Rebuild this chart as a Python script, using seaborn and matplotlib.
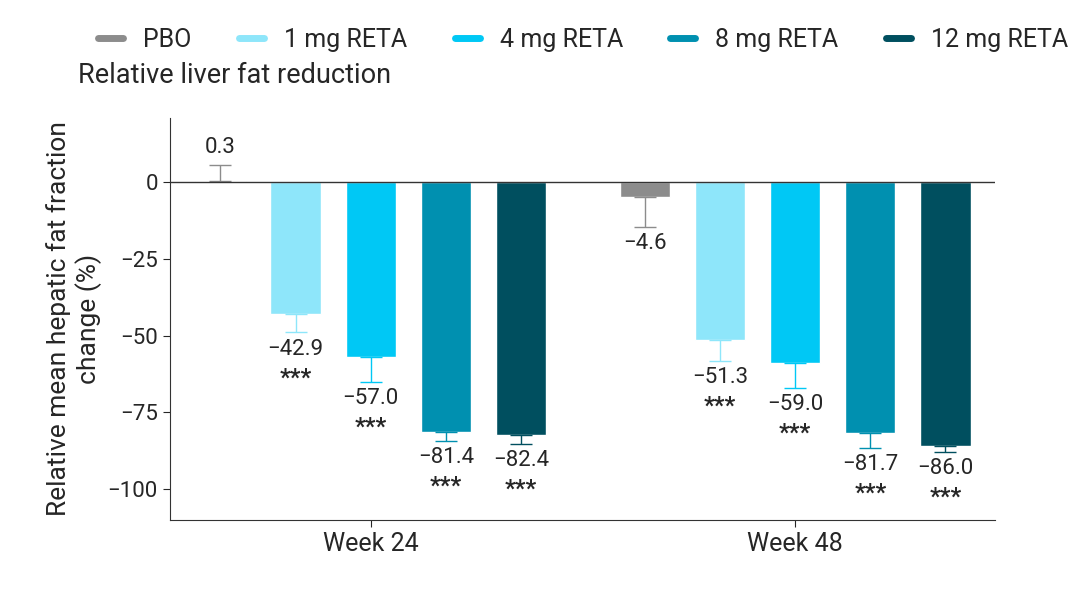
import pandas as pd
import numpy as np
import matplotlib
matplotlib.use('Agg')
import matplotlib.pyplot as plt
import seaborn as sns
from matplotlib.lines import Line2D

weeks = ['Week 24', 'Week 48']
doses = ['PBO', '1 mg RETA', '4 mg RETA', '8 mg RETA', '12 mg RETA']
colors = ['#8c8c8c', '#8ee6fa', '#00c8f5', '#0090b0', '#004f5f']
wk24 = [0.3, -42.9, -57.0, -81.4, -82.4]
wk48 = [-4.6, -51.3, -59.0, -81.7, -86.0]
err24 = [5.5, 6.0, 8.0, 3.0, 3.0]
err48 = [10.0, 7.0, 8.0, 5.0, 2.0]
stars24 = ['', '***', '***', '***', '***']
stars48 = ['', '***', '***', '***', '***']

sns.set_style('white')
plt.rcParams['font.family'] = ['Roboto', 'DejaVu Sans']

df = pd.DataFrame({'week': np.repeat(weeks, len(doses)),
                   'dose': doses * 2,
                   'val': wk24 + wk48})

fig = plt.figure(figsize=(10.8, 5.9), dpi=100)
ax = fig.add_axes([0.157, 0.119, 0.764, 0.681])
sns.barplot(data=df, x='week', y='val', hue='dose', palette=colors, saturation=1,
            width=0.885, gap=0.33, legend=False, ax=ax, errorbar=None)

vals = [wk24, wk48]
errs = [err24, err48]
stars = [stars24, stars48]
for h in range(len(doses)):
    cont = ax.containers[h]
    for w in range(len(weeks)):
        p = cont.patches[w]
        x = p.get_x() + p.get_width() / 2
        v = vals[w][h]
        e = errs[w][h]
        sgn = 1 if v > 0 else -1
        ax.errorbar(x, v, yerr=[[e], [0]] if sgn < 0 else [[0], [e]],
                    fmt='none', ecolor=colors[h], elinewidth=1, capsize=8)
        lab = f'{v:.1f}'.replace('-', '\u2212')
        if sgn > 0:
            ax.text(x, v + e + 2, lab, ha='center', va='bottom', fontsize=16)
        else:
            ax.text(x, v - e - 2, lab, ha='center', va='top', fontsize=16)
            if stars[w][h]:
                ax.text(x, v - e - 11, stars[w][h], ha='center', va='top',
                        fontsize=17, fontweight='bold')

ax.axhline(0, color='#333333', lw=1)
ax.set_ylim(-110, 21)
ax.set_xlim(-0.474, 1.47)
ax.set_yticks([0, -25, -50, -75, -100])
ax.set_yticklabels(['0', '\u221225', '\u221250', '\u221275', '\u2212100'])
ax.tick_params(axis='y', labelsize=16, length=5, left=True)
ax.tick_params(axis='x', labelsize=18, length=5, bottom=True)
ax.set_xlabel('')
ax.set_ylabel('Relative mean hepatic fat fraction\nchange (%)', fontsize=19)
sns.despine(ax=ax, top=True, right=True)
for s in ['left', 'bottom']:
    ax.spines[s].set_color('#333333')

handles = [Line2D([0], [0], color=c, lw=5) for c in colors]
fig.legend(handles, doses, loc='center', bbox_to_anchor=(0.54, 0.932), ncol=5,
           frameon=False, fontsize=18, handlelength=1.0, columnspacing=1.9)
fig.text(0.072, 0.872, 'Relative liver fat reduction', fontsize=19.5, va='center')

fig.savefig('out.png', dpi=100)
